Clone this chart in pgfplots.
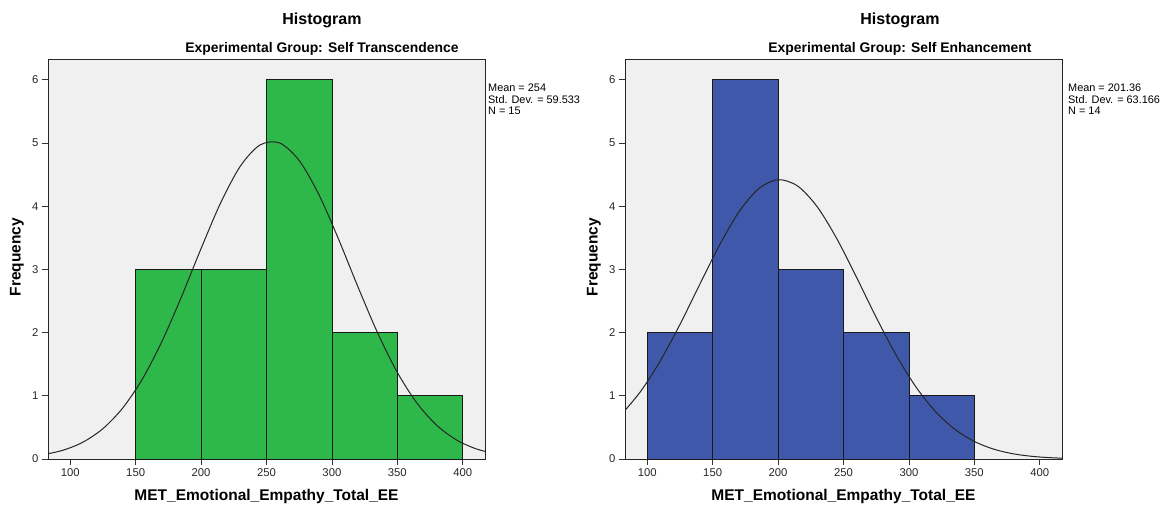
\documentclass[border=0pt]{standalone}
\usepackage{pgfplots}
\pgfplotsset{compat=1.18}
\usepackage{fontspec}
\setmainfont{Liberation Sans}
\definecolor{stgreen}{RGB}{46,184,74}
\definecolor{seblue}{RGB}{63,88,169}
\definecolor{bgc}{RGB}{240,240,240}
\pgfplotsset{spss/.style={
  scale only axis, width=437pt, height=400pt,
  xmin=83, xmax=417, ymin=0, ymax=6.33,
  xtick={100,150,...,400}, ytick={0,1,...,6},
  axis background/.style={fill=bgc},
  tick align=outside, tick pos=left, major tick length=6pt,
  every tick/.style={black!80, line width=0.8pt},
  axis line style={black!85, line width=0.9pt},
  ticklabel style={font=\fontsize{11.3}{11}\selectfont, text=black!85},
  /pgf/number format/assume math mode=true,
  clip=true,
}}
\begin{document}
\begin{tikzpicture}
\path[use as bounding box] (0pt,0pt) rectangle (1173pt,507pt);
\begin{axis}[spss, at={(48pt,48pt)}, anchor=south west]
\addplot[ybar interval, fill=stgreen, draw=black!90, line width=0.8pt]
  coordinates {(150,3) (200,3) (250,6) (300,2) (350,1) (400,1)};
\addplot[black!85, line width=1pt, smooth] coordinates {
(80,0.0702) (95,0.142) (110,0.2697) (125,0.4805) (140,0.8037) (155,1.261)
(170,1.857) (185,2.567) (200,3.331) (215,4.055) (230,4.634) (245,4.969)
(260,5.001) (275,4.723) (290,4.186) (305,3.482) (320,2.719) (335,1.992)
(350,1.370) (365,0.8839) (380,0.5353) (395,0.3042) (410,0.1623) (425,0.0812)};
\end{axis}
\begin{axis}[spss, at={(625pt,48pt)}, anchor=south west]
\addplot[ybar interval, fill=seblue, draw=black!90, line width=0.8pt]
  coordinates {(100,2) (150,6) (200,3) (250,2) (300,1) (350,1)};
\addplot[black!85, line width=1pt, smooth] coordinates {
(80,0.6983) (95,1.071) (110,1.554) (125,2.129) (140,2.758) (155,3.377)
(170,3.909) (185,4.275) (200,4.420) (215,4.319) (230,3.989) (245,3.482)
(260,2.873) (275,2.241) (290,1.652) (305,1.151) (320,0.7573) (335,0.4716)
(350,0.2774) (365,0.1543) (380,0.0810) (395,0.0402) (410,0.0189) (425,0.0084)};
\end{axis}
% titles
\node[font=\bfseries\fontsize{16}{16}\selectfont] at (322pt,487pt) {Histogram};
\node[font=\bfseries\fontsize{13.9}{14}\selectfont] at (322pt,458.5pt) {Experimental Group: Self Transcendence};
\node[font=\bfseries\fontsize{16}{16}\selectfont] at (900pt,487pt) {Histogram};
\node[font=\bfseries\fontsize{13.9}{14}\selectfont] at (900pt,458.5pt) {Experimental Group: Self Enhancement};
% stats
\node[anchor=north west, align=left, inner sep=0pt, font=\fontsize{10.9}{11.5}\selectfont] at (488pt,423pt) {Mean = 254\\Std. Dev. = 59.533\\N = 15};
\node[anchor=north west, align=left, inner sep=0pt, font=\fontsize{10.9}{11.5}\selectfont] at (1068pt,423pt) {Mean = 201.36\\Std. Dev. = 63.166\\N = 14};
% axis labels
\node[rotate=90, font=\bfseries\fontsize{15.5}{16}\selectfont] at (17pt,250pt) {Frequency};
\node[rotate=90, font=\bfseries\fontsize{15.5}{16}\selectfont] at (594pt,250pt) {Frequency};
\node[anchor=base, font=\bfseries\fontsize{15.5}{16}\selectfont] at (266.5pt,7pt) {MET\_Emotional\_Empathy\_Total\_EE};
\node[anchor=base, font=\bfseries\fontsize{15.5}{16}\selectfont] at (843.5pt,7pt) {MET\_Emotional\_Empathy\_Total\_EE};
\end{tikzpicture}
\end{document}
